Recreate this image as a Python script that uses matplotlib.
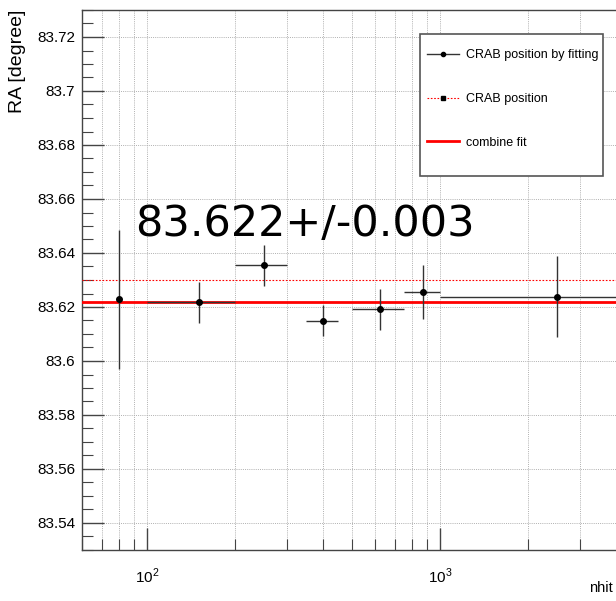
import numpy as np
import matplotlib
matplotlib.use('Agg')
import matplotlib.pyplot as plt
from matplotlib.lines import Line2D
from matplotlib.patches import Rectangle
from matplotlib.ticker import LogLocator, NullFormatter, MultipleLocator, FuncFormatter

plt.rcParams['font.family'] = ['Liberation Sans', 'DejaVu Sans']
plt.rcParams['mathtext.fontset'] = 'custom'
plt.rcParams['mathtext.rm'] = 'Liberation Sans'

# fitted crab RA per nhit bin
nhit = [80, 150, 250, 400, 625, 875, 2500]
nhit_err = [0, 50, 50, 50, 125, 125, 1500]
ra = [83.6229, 83.6217, 83.6354, 83.6149, 83.6191, 83.6254, 83.6238]
ra_err = [0.0257, 0.0075, 0.0076, 0.0058, 0.0077, 0.0100, 0.0150]

crab_ra = 83.63
fit_ra = 83.622
fit_err = 0.003
fit_range = [60, 3950]

W, H = 616, 601
fig = plt.figure(figsize=(W/100, H/100), dpi=100)
ax = fig.add_axes([82/W, 51/H, 563/W, 540/H])

ax.set_xscale('log')
ax.set_xlim(60, 5000)
ax.set_ylim(83.53, 83.73)

ax.errorbar(nhit, ra, xerr=nhit_err, yerr=ra_err, fmt='o', color='k', ms=4,
            ecolor='#333333', elinewidth=1.0, capsize=0, zorder=5)
ax.axhline(crab_ra, color='red', lw=0.8, ls=(0, (1.5, 1.5)), zorder=3)
ax.plot(fit_range, [fit_ra, fit_ra], color='red', lw=2.0, zorder=4)

fig.text(135/W, (H-236)/H, '%.3f+/-%.3f' % (fit_ra, fit_err),
         fontsize=31, family='DejaVu Sans', va='baseline', ha='left')

# axis styling
ax.yaxis.set_major_locator(MultipleLocator(0.02))
ax.yaxis.set_minor_locator(MultipleLocator(0.005))
ax.yaxis.set_major_formatter(FuncFormatter(lambda v, p: ('%.2f' % v).rstrip('0')))
ax.xaxis.set_major_locator(LogLocator(base=10))
ax.xaxis.set_minor_locator(LogLocator(base=10, subs=np.arange(2, 10)))
ax.xaxis.set_minor_formatter(NullFormatter())
ax.xaxis.set_major_formatter(FuncFormatter(lambda v, p: r'$10^{%d}$' % round(np.log10(v))))

ax.tick_params(which='both', direction='in', top=False, right=False, color='#444444')
ax.tick_params(which='major', length=16, width=1.0, labelsize=11, pad=5)
ax.tick_params(which='minor', length=8, width=0.8)
ax.tick_params(axis='x', which='major', pad=12)

ax.grid(True, which='major', axis='both', color='#b0b0b0', ls=(0, (1, 1.2)), lw=0.7)
ax.grid(True, which='minor', axis='x', color='#b0b0b0', ls=(0, (1, 1.2)), lw=0.7)
ax.set_axisbelow(True)
for s in ax.spines.values():
    s.set_color('#444444')
    s.set_linewidth(1.0)

fig.text(18/W, 1 - 10/H, 'RA [degree]', rotation=90, ha='center', va='top', fontsize=14)
fig.text(589/W, 13/H, 'nhit', ha='left', va='center', fontsize=10.5)

# legend box
fig.patches.append(Rectangle((420/W, 1 - 176/H), 183/W, 142/H, transform=fig.transFigure,
                             fill=True, facecolor='white', edgecolor='#555555', lw=1.2, zorder=6))
handles = [
    Line2D([], [], color='#333333', lw=1.0, marker='o', ms=3, mfc='k', mec='k'),
    Line2D([], [], color='red', lw=0.8, ls=(0, (1.5, 1.5)), marker='s', ms=3.5, mfc='k', mec='k'),
    Line2D([], [], color='red', lw=2.0),
]
labels = ['CRAB position by fitting', 'CRAB position', 'combine fit']
leg = fig.legend(handles, labels, loc='upper left',
                 bbox_to_anchor=(427/W, 1 - 49/H), bbox_transform=fig.transFigure,
                 fontsize=9, handlelength=2.56, handletextpad=0.56,
                 labelspacing=2.55, borderpad=0, borderaxespad=0, frameon=False)
leg.set_zorder(7)

fig.savefig('out.png', dpi=100)
